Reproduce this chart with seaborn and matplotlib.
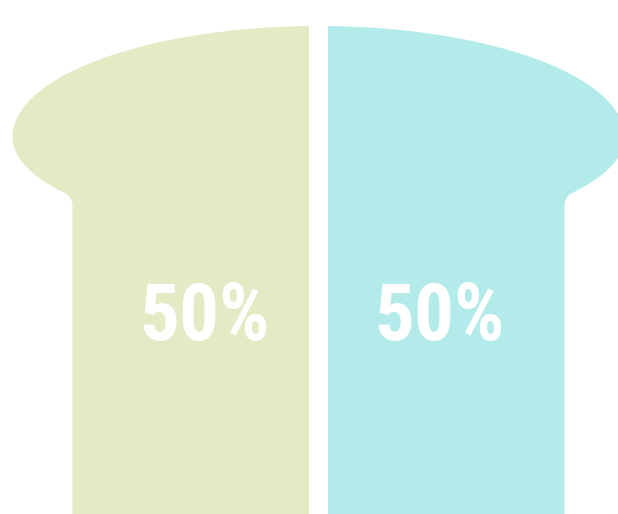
import numpy as np
import pandas as pd
import matplotlib
matplotlib.use("Agg")
import matplotlib.pyplot as plt
from matplotlib.path import Path
from matplotlib.patches import PathPatch
from matplotlib.transforms import Affine2D
import seaborn as sns

# data
halves = ["Left", "Right"]
shares = [50, 50]
colors = ["#e2ebc3", "#b3ebea"]
label_shift = [0.14, -0.12]   # label offset from bar centre, in category units

df = pd.DataFrame({"half": halves, "share": shares})

sns.set_style("white")
plt.rcParams["font.family"] = ["Liberation Sans Narrow", "Roboto Condensed", "DejaVu Sans"]

W, H = 618, 514
fig = plt.figure(figsize=(W / 100, H / 100), dpi=100)
ax = fig.add_axes([0, 0, 1, 1])

sns.barplot(data=df, x="half", y="share", hue="half", palette=colors,
            saturation=1, width=299 / 318.5, linewidth=0, legend=False, ax=ax)

ax.set_xlim(-0.5008, 1.4396)
ax.set_ylim(0, 50 * H / 488)
ax.axis("off")

# bread-slice silhouette (pixel space, y down) used to clip the bars
cx = 318.5
a, b_top, b_bot, yc = 306, 111, 100, 137
t_up = np.linspace(np.pi / 2, np.pi, 60)
t_dn = np.linspace(np.pi, np.deg2rad(214), 30)
left = np.vstack([
    np.column_stack([cx + a * np.cos(t_up), yc - b_top * np.sin(t_up)]),
    np.column_stack([cx + a * np.cos(t_dn[1:]), yc - b_bot * np.sin(t_dn[1:])]),
])
stem_l = 72.5
verts = [tuple(p) for p in left]
codes = [Path.MOVETO] + [Path.LINETO] * (len(left) - 1)
verts += [(stem_l, 196.6), (stem_l, 206), (stem_l, 530)]
codes += [Path.CURVE3, Path.CURVE3, Path.LINETO]
right = [(2 * cx - x, y) for x, y in left[::-1]]
verts += [(2 * cx - stem_l, 530), (2 * cx - stem_l, 206), (2 * cx - stem_l, 196.6), right[0]]
codes += [Path.LINETO, Path.LINETO, Path.CURVE3, Path.CURVE3]
verts += right[1:] + [verts[0]]
codes += [Path.LINETO] * (len(right) - 1) + [Path.CLOSEPOLY]

px = Affine2D().scale(1 / W, -1 / H).translate(0, 1) + ax.transAxes
clip = PathPatch(Path(verts, codes), transform=px)
for bar in ax.patches:
    bar.set_clip_path(clip)

for i, v in enumerate(shares):
    ax.text(i + label_shift[i], (H - 340) / H * ax.get_ylim()[1], f"{v}%",
            ha="center", va="baseline", color="white",
            fontsize=57, fontweight="bold", fontstretch="condensed")

fig.savefig("out.png", dpi=100)
